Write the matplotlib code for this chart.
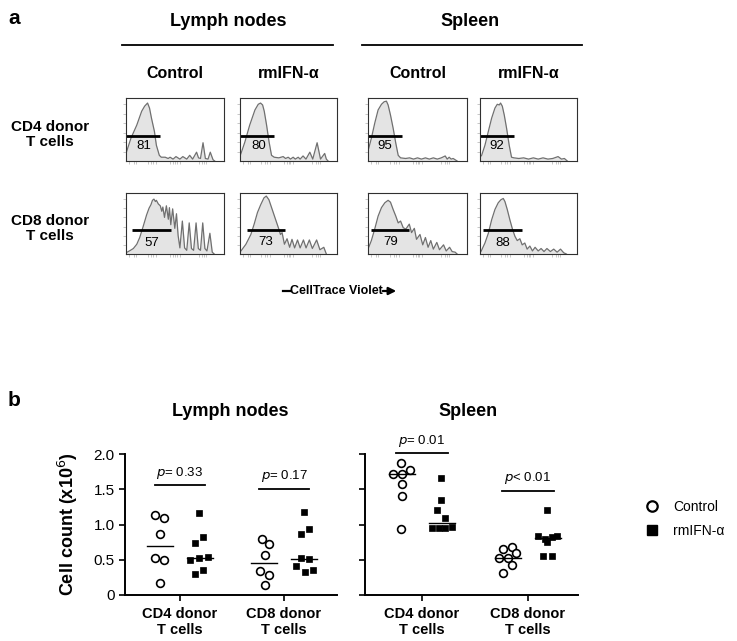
import numpy as np
import matplotlib
matplotlib.use('Agg')
import matplotlib.pyplot as plt
from matplotlib.lines import Line2D
from matplotlib.patches import FancyArrowPatch

plt.rcParams['font.family'] = ['Liberation Sans', 'DejaVu Sans']

# ---------------- panel a : histogram outlines (x: 0-100 channel, y: % of box) ----------
cd4_ln_ctrl_x = [0, 5, 11, 16, 19, 22, 24, 26, 29, 31, 34, 36, 40, 43, 45, 48, 51, 55, 58, 62, 65, 68, 72, 74, 76, 78.6, 81, 83.7, 86, 88.8, 90.5]
cd4_ln_ctrl_y = [12, 36, 57, 79, 87, 92, 84, 68, 47, 25, 9, 6, 6, 4, 6, 3, 7, 3, 7, 3, 9, 3, 14, 5, 4, 29, 4, 3, 14, 2, 0]

cd4_ln_rm_x = [0, 1, 5, 10, 15.4, 18.8, 21.2, 23.3, 25, 27.4, 30, 32.5, 35.3, 40, 44.5, 47, 49.7, 52, 54.8, 57, 60, 62, 65, 68, 72, 75, 79.5, 83, 87.3, 89, 90.8]
cd4_ln_rm_y = [8, 12, 30, 57, 81, 90, 92, 89, 79, 57, 30, 9, 6, 5, 7, 4, 6, 3, 6, 3, 6, 3, 8, 3, 14, 3, 29, 3, 12, 3, 0]

cd4_sp_ctrl_x = [0, 0.7, 3.4, 6.8, 10.2, 13.6, 16.3, 18.6, 20.3, 22.7, 25.4, 28.1, 30.5, 32.9, 38, 42, 46, 50, 54, 58, 62, 66, 70, 74, 78, 80, 82, 84, 86, 90]
cd4_sp_ctrl_y = [18, 20, 36, 60, 81, 90, 94, 95, 89, 73, 52, 28, 9, 5, 4, 5, 3, 5, 3, 5, 3, 5, 3, 5, 8, 3, 6, 3, 4, 0]

cd4_sp_rm_x = [0, 1.7, 5.1, 8.6, 12, 15.4, 17.8, 19.9, 21.2, 23, 25, 27.4, 30.1, 32.5, 35, 40, 45, 50, 55, 60, 65, 70, 75, 80.5, 84, 87, 90]
cd4_sp_rm_y = [6, 9, 25, 47, 68, 84, 90, 89, 92, 87, 73, 52, 25, 6, 5, 4, 5, 3, 5, 3, 5, 3, 4, 7, 3, 4, 0]

cd8_ln_ctrl_x = [0, 4, 7.5, 11, 14, 17.5, 21, 23.5, 25.5, 27, 28.5, 30, 31, 33, 35, 36.5, 37.6, 39.3, 41.2, 43.2, 44.3, 45.7, 47.6, 49.8, 51.5, 53.2, 55, 57.5, 59.8, 62, 64.5, 66.8, 69, 71.5, 73.8, 76, 78.3, 80.5, 82.6, 85.6, 88, 90]
cd8_ln_ctrl_y = [2, 5.5, 9, 16, 27, 45, 64, 75, 81, 88, 90, 86, 88, 82, 79, 70, 77, 60, 79, 57, 76, 48, 74, 42, 66, 30, 10, 54, 10, 6, 51, 9, 6, 51, 9, 6, 51, 9, 5, 34, 3, 0]

cd8_ln_rm_x = [0, 1, 6.1, 11.2, 14.6, 18, 21.4, 24.7, 27.1, 29.8, 33.2, 36.6, 40, 41.7, 43.4, 45.8, 48.5, 51.2, 53.6, 56.3, 59.3, 62, 65.4, 68.1, 71.5, 74.6, 79, 82.4, 86.4, 89]
cd8_ln_rm_y = [3, 5, 16, 32, 49, 68, 81, 92, 95, 89, 73, 57, 41, 32, 35, 16, 25, 11, 24, 10, 23, 10, 23, 10, 23, 9, 23, 7, 11, 0]

cd8_sp_ctrl_x = [0, 0.7, 3.4, 6.8, 10.2, 13.6, 17, 20.3, 22.7, 25.4, 28.1, 30.5, 32.9, 35.6, 38.3, 41.7, 44, 46.8, 49, 52.5, 55.3, 58, 60.7, 63.4, 66, 69.5, 72.2, 76.3, 79, 82.4, 85, 88, 90]
cd8_sp_ctrl_y = [9, 11, 22, 41, 62, 76, 84, 88, 85, 73, 62, 51, 54, 43, 41, 49, 35, 42, 24, 32, 15, 27, 11, 22, 8, 19, 7, 15, 5, 11, 4, 3, 0]

cd8_sp_rm_x = [0, 1, 5.1, 8.6, 12, 15.4, 18.8, 21.6, 24, 25.7, 28.1, 30.8, 33.6, 36, 38.4, 41.1, 43.5, 46.2, 48.6, 51.4, 54.1, 56.8, 60, 63, 66, 69, 72.6, 76, 79.5, 83, 86.3, 89]
cd8_sp_rm_y = [3, 4, 18, 34, 56, 73, 84, 89, 91, 86, 73, 56, 40, 29, 22, 25, 15, 18, 8, 13, 5, 11, 5, 9, 4, 9, 4, 8, 3, 8, 2, 0]

gate_percent = [81, 80, 95, 92, 57, 73, 79, 88]
gate_start = [0, 0, 0, 0, 6.4, 7, 2.7, 2.7]
gate_end = [34.5, 35, 34.5, 35, 46.4, 46, 41.7, 43]

col_labels = ['Control', 'rmIFN-α', 'Control', 'rmIFN-α']
row_labels = ['CD4 donor\nT cells', 'CD8 donor\nT cells']
tissue_labels = ['Lymph nodes', 'Spleen']

# ---------------- panel b : cell counts (x10^6) ----------------
categories = ['CD4 donor\nT cells', 'CD8 donor\nT cells']
ln_cd4_ctrl = [1.13, 1.09, 0.86, 0.53, 0.49, 0.17]
ln_cd4_rm = [1.16, 0.82, 0.74, 0.54, 0.52, 0.50, 0.36, 0.30]
ln_cd8_ctrl = [0.79, 0.72, 0.57, 0.34, 0.29, 0.14]
ln_cd8_rm = [1.18, 0.93, 0.86, 0.52, 0.51, 0.41, 0.36, 0.33]
sp_cd4_ctrl = [1.87, 1.78, 1.71, 1.71, 1.57, 1.40, 0.94]
sp_cd4_rm = [1.66, 1.35, 1.20, 1.09, 0.96, 0.95, 0.95, 0.95]
sp_cd8_ctrl = [0.68, 0.65, 0.59, 0.52, 0.52, 0.43, 0.31]
sp_cd8_rm = [1.21, 0.84, 0.83, 0.82, 0.80, 0.75, 0.56, 0.55]
p_texts_ln = ['= 0.33', '= 0.17']
p_texts_sp = ['= 0.01', '< 0.01']

# horizontal scatter offsets (pixels) used to spread overlapping dots
ln_cd4_ctrl_dx = [-5, 4, 0, -5, 4, 0]
ln_cd4_rm_dx = [-1, 3, -5, 8, -1, -10, 3, -5]
ln_cd8_ctrl_dx = [-2, 5, 1, -4, 5, 1]
ln_cd8_rm_dx = [0, 5, -3, -3, 5, -8, 9, 1]
sp_cd4_ctrl_dx = [-1, 8, -9, 0, 0, 0, -1]
sp_cd4_rm_dx = [-1, -1, -5, 3, 10, -10, -3, 3]
sp_cd8_ctrl_dx = [4, -5, 8, 0, -9, 4, -5]
sp_cd8_rm_dx = [-1, 9, -10, 4, -3, -1, 4, -5]

W, H = 737, 641
fig = plt.figure(figsize=(W / 100, H / 100), dpi=100)


def fx(x):
    return x / W


def fy(y):
    return 1 - y / H


def add_ax(x0, y0, x1, y1):
    return fig.add_axes([fx(x0), fy(y1), (x1 - x0) / W, (y1 - y0) / H])


def ftext(x, y, s, **kw):
    fig.text(fx(x), fy(y), s, ha=kw.pop('ha', 'center'), va=kw.pop('va', 'center'), **kw)


def fline(x0, x1, y, lw=1.3):
    fig.add_artist(Line2D([fx(x0), fx(x1)], [fy(y), fy(y)], color='black', lw=lw))


# ---------------- panel a ----------------
ftext(14, 19, 'a', fontsize=15, fontweight='bold')
ftext(228, 22, 'Lymph nodes', fontsize=13, fontweight='bold')
ftext(470, 22, 'Spleen', fontsize=13, fontweight='bold')
fline(122, 333, 45)
fline(362, 582, 45)

box_x = [(126, 224), (240, 337), (368, 467), (480, 577)]
box_y = [(98, 161), (193, 254)]
for (x0, x1), lab in zip(box_x, col_labels):
    ftext((x0 + x1) / 2, 73, lab, fontsize=11.5, fontweight='bold')
for (y0, y1), lab in zip(box_y, row_labels):
    ftext(50, (y0 + y1) / 2 + 5, lab, fontsize=11, fontweight='bold', linespacing=1.15)

hist_x = [cd4_ln_ctrl_x, cd4_ln_rm_x, cd4_sp_ctrl_x, cd4_sp_rm_x,
          cd8_ln_ctrl_x, cd8_ln_rm_x, cd8_sp_ctrl_x, cd8_sp_rm_x]
hist_y = [cd4_ln_ctrl_y, cd4_ln_rm_y, cd4_sp_ctrl_y, cd4_sp_rm_y,
          cd8_ln_ctrl_y, cd8_ln_rm_y, cd8_sp_ctrl_y, cd8_sp_rm_y]
label_pos = [(18, 24), (19, 24), (17, 24), (17, 24), (26, 18), (26, 19), (23, 19), (23, 18)]

for i in range(8):
    r, c = divmod(i, 4)
    (x0, x1), (y0, y1) = box_x[c], box_y[r]
    ax = add_ax(x0, y0, x1, y1)
    ax.fill_between(hist_x[i], hist_y[i], 0, color='#e4e4e4', lw=0)
    ax.plot(hist_x[i], hist_y[i], color='#707070', lw=0.9, solid_joinstyle='round')
    ax.plot([gate_start[i], gate_end[i]], [40, 40], color='black', lw=2.0, solid_capstyle='butt')
    lx, ly = label_pos[i]
    ax.text(lx, ly, str(gate_percent[i]), ha='center', va='center', fontsize=9.5)
    ax.set_xlim(0, 100)
    ax.set_ylim(0, 100)
    ax.set_xticks([3, 8, 10, 22, 26, 28, 31, 45, 48, 50, 52, 55, 74, 78, 80, 82])
    ax.set_yticks([15, 30, 45, 60, 75, 90])
    ax.tick_params(length=2, width=0.5, color='#b0b0b0', labelleft=False, labelbottom=False)
    for s in ax.spines.values():
        s.set_color('#303030')
        s.set_linewidth(0.8)

ftext(336, 291, 'CellTrace Violet', fontsize=9, fontweight='bold')
fline(283, 291, 291, lw=1.6)
fig.add_artist(FancyArrowPatch((fx(380), fy(291)), (fx(399), fy(291)), transform=fig.transFigure,
                               arrowstyle='-|>', mutation_scale=11, lw=1.6, color='black'))

# ---------------- panel b ----------------
ftext(14, 400, 'b', fontsize=15, fontweight='bold')
ftext(230, 411, 'Lymph nodes', fontsize=13, fontweight='bold')
ftext(468, 411, 'Spleen', fontsize=13, fontweight='bold')


def scatter_panel(ax, groups, dxs, px_per_unit, p_labels):
    off = 20 / px_per_unit
    for ci in range(2):
        for gi in range(2):
            vals = groups[ci][gi]
            dx = np.array(dxs[ci][gi]) / px_per_unit
            center = ci + (-off if gi == 0 else off)
            xs = center + dx
            if gi == 0:
                ax.plot(xs, vals, 'o', ms=5.6, mfc='white', mec='black', mew=1.2, ls='none', clip_on=False)
            else:
                ax.plot(xs, vals, 's', ms=5.0, mfc='black', mec='black', mew=0.5, ls='none', clip_on=False)
            hw = 13 / px_per_unit
            ax.plot([center - hw, center + hw], [np.median(vals)] * 2, color='black', lw=1.0)
    for ci, (ly, ty, txt) in enumerate(p_labels):
        ax.plot([ci - 0.245, ci + 0.245], [ly, ly], color='black', lw=1.3, clip_on=False)
        ax.text(ci, ty, r'$\it{p}$' + txt, ha='center', va='center', fontsize=9.5, clip_on=False)
    ax.set_ylim(0, 2.0)
    ax.set_xticks([0, 1])
    ax.set_xticklabels(categories, fontsize=10.5, fontweight='bold', linespacing=1.15)
    ax.spines['top'].set_visible(False)
    ax.spines['right'].set_visible(False)
    for s in ('left', 'bottom'):
        ax.spines[s].set_linewidth(1.4)
    ax.tick_params(axis='both', width=1.2, length=4)
    ax.tick_params(axis='y', labelsize=11)
    ax.tick_params(axis='x', pad=5)
    ax.set_yticks([0, 0.5, 1.0, 1.5, 2.0])
    ax.set_yticklabels(['0', '0.5', '1.0', '1.5', '2.0'])


axl = add_ax(125, 454, 337, 595)
scatter_panel(axl, [[ln_cd4_ctrl, ln_cd4_rm], [ln_cd8_ctrl, ln_cd8_rm]],
              [[ln_cd4_ctrl_dx, ln_cd4_rm_dx], [ln_cd8_ctrl_dx, ln_cd8_rm_dx]], 104,
              [(1.56, 1.73, p_texts_ln[0]), (1.50, 1.69, p_texts_ln[1])])
axl.set_xlim(-55 / 104, 1 + 53 / 104)
axl.set_ylabel('Cell count (x10$^{6}$)', fontsize=13, fontweight='bold', labelpad=10)

axr = add_ax(365, 454, 578, 595)
scatter_panel(axr, [[sp_cd4_ctrl, sp_cd4_rm], [sp_cd8_ctrl, sp_cd8_rm]],
              [[sp_cd4_ctrl_dx, sp_cd4_rm_dx], [sp_cd8_ctrl_dx, sp_cd8_rm_dx]], 106,
              [(2.02, 2.19, p_texts_sp[0]), (1.47, 1.66, p_texts_sp[1])])
axr.set_xlim(-57 / 106, 1 + 50 / 106)
axr.set_yticklabels([])

handles = [Line2D([], [], marker='o', ls='none', ms=7.5, mfc='white', mec='black', mew=1.6),
           Line2D([], [], marker='s', ls='none', ms=7.5, mfc='black', mec='black')]
fig.legend(handles, ['Control', 'rmIFN-α'], loc='center left', bbox_to_anchor=(fx(637), fy(519)),
           frameon=False, fontsize=10, handletextpad=0.9, labelspacing=0.75, borderpad=0, handlelength=1.2)

fig.savefig('out.png', dpi=100)
